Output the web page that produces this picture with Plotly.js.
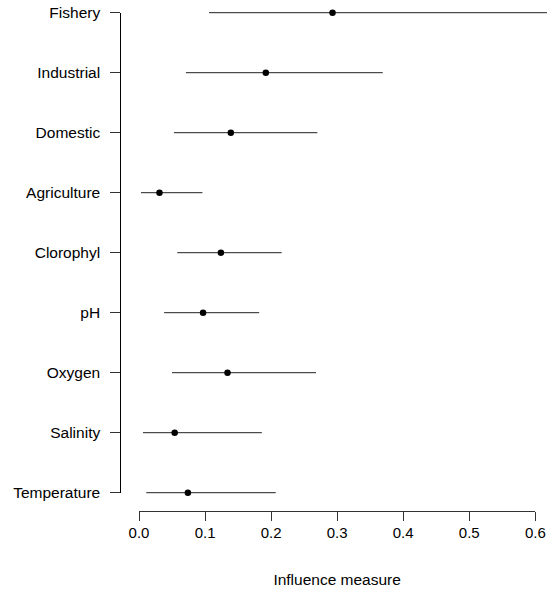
<!DOCTYPE html>
<html>
<head>
<meta charset="utf-8">
<script src="https://cdn.plot.ly/plotly-3.0.1.min.js"></script>
<style>html,body{margin:0;padding:0;background:#fff}#chart{width:547px;height:594px}</style>
</head>
<body>
<div id="chart"></div>
<script>
// Categories from top to bottom as in the chart
const categories = ["Fishery","Industrial","Domestic","Agriculture","Clorophyl","pH","Oxygen","Salinity","Temperature"];
const estimate = [0.293, 0.192, 0.139, 0.031, 0.124, 0.097, 0.134, 0.054, 0.074];
const lower    = [0.106, 0.071, 0.053, 0.003, 0.058, 0.038, 0.050, 0.006, 0.011];
const upper    = [0.625, 0.369, 0.270, 0.096, 0.216, 0.182, 0.268, 0.186, 0.207];
const xTicks = [0, 0.1, 0.2, 0.3, 0.4, 0.5, 0.6];
const xTickText = ["0.0","0.1","0.2","0.3","0.4","0.5","0.6"];

const W = 547, H = 594;
const FONT = "Liberation Sans, Arial, Helvetica, sans-serif";
const bottomUp = categories.slice().reverse();

const trace = {
  type: "scatter", mode: "markers",
  x: estimate, y: categories,
  marker: {color: "#000", size: 6.5},
  error_x: {
    type: "data", symmetric: false,
    array: upper.map((u, i) => u - estimate[i]),
    arrayminus: lower.map((l, i) => estimate[i] - l),
    color: "#222", thickness: 1, width: 0
  },
  hoverinfo: "skip", showlegend: false
};

const x0 = 139, x06 = 535.3, scale = (x06 - x0) / 0.6;
const layout = {
  width: W, height: H,
  margin: {l: 0, r: 0, t: 0, b: 0},
  paper_bgcolor: "#fff", plot_bgcolor: "rgba(0,0,0,0)",
  font: {family: FONT, color: "#000", size: 15},
  showlegend: false,
  xaxis: {
    domain: [x0 / W, 1], range: [0, (W - x0) / scale],
    visible: false, fixedrange: true
  },
  yaxis: {
    domain: [(H - 511) / H, 1], type: "category",
    categoryarray: bottomUp, categoryorder: "array",
    range: [-18.3 / 60, 8 + 12.7 / 60],
    visible: false, fixedrange: true
  },
  xaxis2: {
    domain: [x0 / W, x06 / W], range: [0, 0.6],
    anchor: "free", position: (H - 511.3) / H,
    showline: true, linecolor: "#333", linewidth: 1,
    ticks: "outside", ticklen: 9, tickcolor: "#333", tickwidth: 1,
    tickmode: "array", tickvals: xTicks, ticktext: xTickText,
    showgrid: false, zeroline: false,
    tickfont: {family: FONT, size: 15, color: "#000"},
    ticklabelstandoff: -1,
    title: {text: "Influence measure", font: {family: FONT, size: 15.5, color: "#000"}, standoff: 33},
    fixedrange: true
  },
  yaxis2: {
    domain: [(H - 492.7) / H, (H - 12.7) / H], range: [0, 8],
    anchor: "free", position: 120.3 / W,
    showline: true, linecolor: "#000", linewidth: 1,
    ticks: "outside", ticklen: 10, tickcolor: "#333", tickwidth: 1,
    tickmode: "array", tickvals: bottomUp.map((_, i) => i), ticktext: bottomUp,
    showgrid: false, zeroline: false,
    tickfont: {family: FONT, size: 15.5, color: "#000"},
    ticklabelstandoff: 7,
    fixedrange: true
  }
};

// invisible helper trace so the secondary axes are drawn
const helper = {type: "scatter", mode: "markers", x: [0], y: [0], xaxis: "x2", yaxis: "y2",
  marker: {opacity: 0}, hoverinfo: "skip", showlegend: false};

Plotly.newPlot("chart", [helper, trace], layout, {staticPlot: true, displayModeBar: false});
</script>
</body>
</html>
